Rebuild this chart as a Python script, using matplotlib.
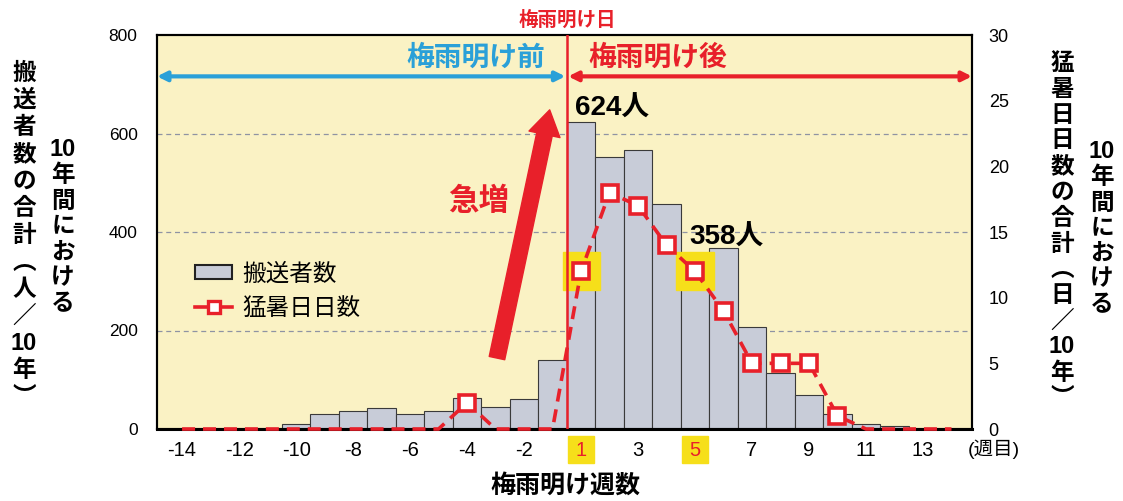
import matplotlib
matplotlib.use("Agg")
import matplotlib.pyplot as plt
from matplotlib.patches import Rectangle, Patch
from matplotlib.lines import Line2D
import matplotlib.transforms as mtransforms

# ---------------- data ----------------
weeks = list(range(-14, 0)) + list(range(1, 15))
transported = [0, 0, 0, 0, 10, 31, 37, 42, 31, 37, 62, 45, 60, 140,
               624, 553, 566, 456, 358, 367, 207, 114, 70, 30, 10, 7, 1, 0]
hot_days = [0, 0, 0, 0, 0, 0, 0, 0, 0, 0, 2, 0, 0, 0,
            12, 18, 17, 14, 12, 9, 5, 5, 5, 1, 0, 0, 0, 0]
tick_weeks = [-14, -12, -10, -8, -6, -4, -2, 1, 3, 5, 7, 9, 11, 13]
highlight_weeks = [1, 5]
left_ticks = [0, 200, 400, 600, 800]
right_ticks = [0, 5, 10, 15, 20, 25, 30]

JP = ['Noto Sans CJK JP', 'DejaVu Sans']
NUMJP = ['Liberation Sans', 'Noto Sans CJK JP', 'DejaVu Sans']
RED = '#e8202a'
BLUE = '#2aa0d8'
YEL = '#f6df1a'

W, H = 1123, 501
fig = plt.figure(figsize=(W / 100, H / 100), dpi=100)
fig.patch.set_facecolor('white')

L, R, T, B = 157, 972, 35, 429
ax = fig.add_axes([L / W, 1 - B / H, (R - L) / W, (B - T) / H])
ax.set_facecolor('#faf2c4')
idx = list(range(len(weeks)))
ax.bar(idx, transported, width=1.0, color='#c8ccd8', edgecolor='#3a3a3a',
       linewidth=0.8, zorder=2)
ax.set_xlim(-0.88, 27.72)
ax.set_ylim(0, 800)
ax.set_yticks(left_ticks)
ax.set_yticklabels([str(v) for v in left_ticks], family='Liberation Sans', fontsize=12.5)
for g in left_ticks[1:-1]:
    ax.axhline(g, color='#8f93a3', lw=0.9, ls=(0, (4, 3)), zorder=1)

pos = {w: i for i, w in enumerate(weeks)}
ax.set_xticks([pos[w] for w in tick_weeks])
ax.set_xticklabels([str(w) for w in tick_weeks], family='Liberation Sans', fontsize=14.5)
for lab, w in zip(ax.get_xticklabels(), tick_weeks):
    if w in highlight_weeks:
        lab.set_color(RED)
ax.tick_params(axis='x', length=0, pad=9)
ax.tick_params(axis='y', length=0, pad=14)
for s in ['left', 'right', 'top']:
    ax.spines[s].set_linewidth(1.5)
ax.spines['bottom'].set_linewidth(2.2)

# yellow boxes behind highlighted x tick labels
trans = mtransforms.blended_transform_factory(ax.transData, ax.transAxes)
for w in highlight_weeks:
    ax.add_patch(Rectangle((pos[w] - 0.47, -0.087), 0.94, 0.07, transform=trans,
                           color=YEL, clip_on=False, zorder=0))

# right axis
ax2 = ax.twinx()
ax2.set_ylim(0, 30)
ax2.set_yticks(right_ticks)
ax2.set_yticklabels([str(v) for v in right_ticks], family='Liberation Sans', fontsize=13)
ax2.tick_params(axis='y', length=0, pad=12)
for s in ax2.spines.values():
    s.set_linewidth(1.5)

for w in highlight_weeks:
    ax2.add_patch(Rectangle((pos[w] - 0.65, hot_days[pos[w]] - 1.45), 1.3, 2.9,
                            color=YEL, zorder=2))

nz = [i for i, v in enumerate(hot_days) if v > 0]
ax2.plot(idx, hot_days, color=RED, lw=2.6, ls=(0, (3.6, 2.2)), zorder=3, clip_on=False)
ax2.plot([idx[i] for i in nz], [hot_days[i] for i in nz], ls='none', marker='s',
         ms=12, mfc='white', mec=RED, mew=2.6, zorder=4)

# rainy season end line and arrows
xb = 13.5
ax2.axvline(xb, color=RED, lw=1.8, zorder=5)
ya = 26.85
ax2.annotate('', xy=(-0.88, ya), xytext=(xb - 0.05, ya),
             arrowprops=dict(arrowstyle='<|-|>', color=BLUE, lw=3, mutation_scale=14,
                             shrinkA=0, shrinkB=0), zorder=6, annotation_clip=False)
ax2.annotate('', xy=(xb + 0.05, ya), xytext=(27.72, ya),
             arrowprops=dict(arrowstyle='<|-|>', color=RED, lw=3, mutation_scale=14,
                             shrinkA=0, shrinkB=0), zorder=6, annotation_clip=False)
ax2.text(10.3, 28.25, '梅雨明け前', color=BLUE, family=JP, fontsize=20,
         fontweight='bold', ha='center', va='center')
ax2.text(16.7, 28.25, '梅雨明け後', color=RED, family=JP, fontsize=20,
         fontweight='bold', ha='center', va='center')
fig.text(567 / W, 1 - 20 / H, '梅雨明け日', color=RED, family=JP, fontsize=14,
         fontweight='bold', ha='center', va='center')

# surge arrow
ax.annotate('', xy=(12.9, 648), xytext=(11.05, 144),
            arrowprops=dict(arrowstyle='simple,head_length=1.5,head_width=1.9,tail_width=0.95',
                            mutation_scale=12, color=RED, shrinkA=0, shrinkB=0), zorder=6)
ax.text(10.4, 462, '急増', color=RED, family=JP, fontsize=22, fontweight='bold',
        ha='center', va='center', zorder=7)

ax.text(15.1, 650, '624人', family=NUMJP, fontsize=20, fontweight='bold',
        ha='center', va='center', zorder=7)
ax.text(19.1, 388, '358人', family=NUMJP, fontsize=20, fontweight='bold',
        ha='center', va='center', zorder=7)

# legend
handles = [Patch(facecolor='#c8ccd8', edgecolor='#222222', linewidth=1.5),
           Line2D([], [], color=RED, lw=2.6, marker='s', ms=9, mfc='white', mec=RED, mew=2.4)]
leg = ax.legend(handles, ['搬送者数', '猛暑日日数'], loc='upper left',
                bbox_to_anchor=(0.021, 0.477), frameon=False,
                prop={'family': JP, 'size': 17}, handlelength=1.55, handleheight=0.55,
                labelspacing=0.5, handletextpad=0.42)
leg.set_zorder(8)

# axis labels
fig.text(565 / W, 1 - 486 / H, '梅雨明け週数', family=JP, fontsize=18,
         fontweight='bold', ha='center', va='center')
fig.text(994 / W, 1 - 449 / H, '(週目)', family=NUMJP, fontsize=14,
         ha='center', va='center')


def vtext(xc, y0, rows, pitch, size=17):
    for k, ch in enumerate(rows):
        fig.text(xc / W, 1 - (y0 + k * pitch) / H, ch, family=NUMJP if ch == '10' else JP,
                 fontsize=size, fontweight='bold', ha='center', va='center')


left_outer = ['搬', '送', '者', '数', 'の', '合', '計', '︵', '人', '／', '10', '年', '︶']
right_outer = ['猛', '暑', '日', '日', '数', 'の', '合', '計', '︵', '日', '／', '10', '年', '︶']
inner = ['10', '年', '間', 'に', 'お', 'け', 'る']
vtext(24, 73, left_outer, 27.0)
vtext(63, 150, inner, 25.5)
vtext(1062, 63, right_outer, 25.8)
vtext(1102, 152, inner, 25.3)

fig.savefig('out.png', dpi=100)
